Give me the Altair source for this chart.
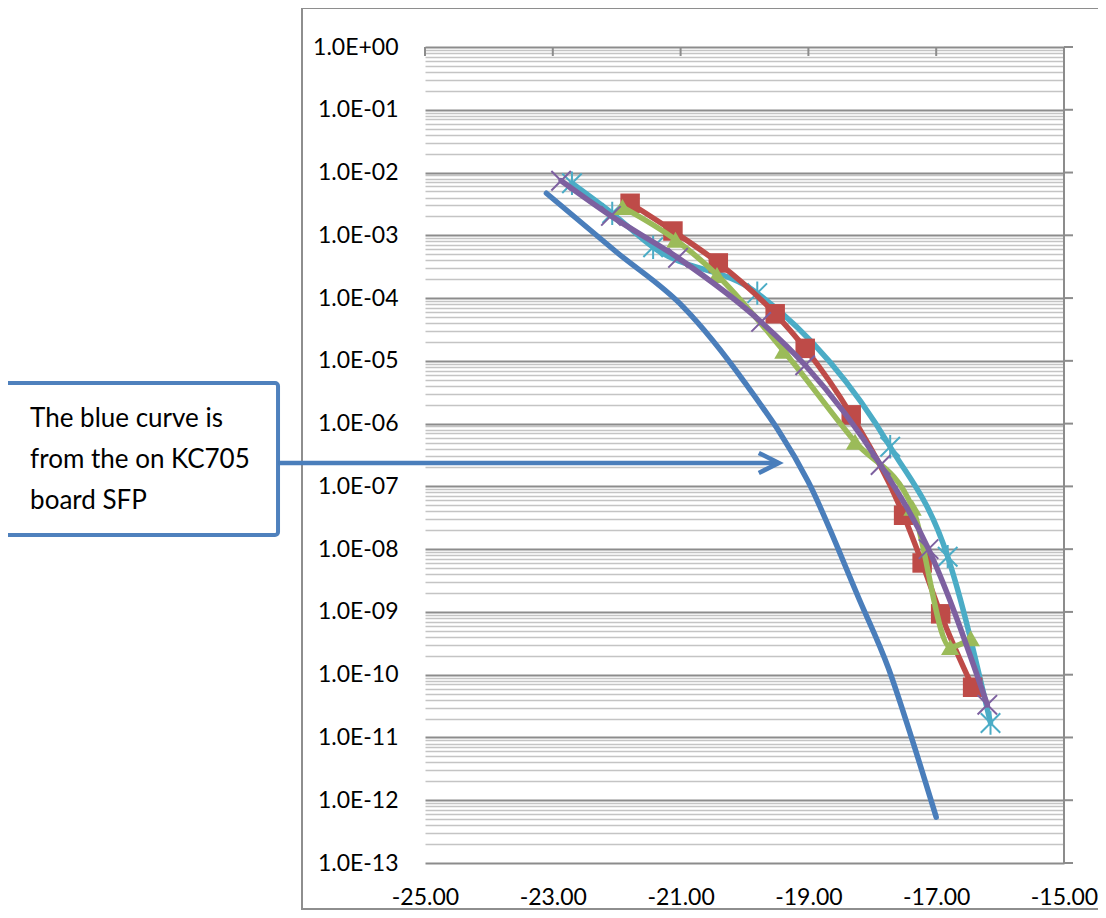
import altair as alt
import pandas as pd

# ---------------- data ----------------
blue_x = [-23.10, -22.00, -20.96, -20.00, -19.00, -18.20, -17.75, -17.40, -17.00]
blue_y = [4.68e-3, 5.37e-4, 7.24e-5, 4.57e-6, 1.17e-7, 1.55e-9, 1.29e-10, 1.10e-11, 5.37e-13]

red_x = [-21.79, -21.12, -20.41, -19.52, -19.05, -18.33, -17.51, -17.22, -16.93, -16.43]
red_y = [3.24e-3, 1.17e-3, 3.63e-4, 5.62e-5, 1.58e-5, 1.38e-6, 3.47e-8, 6.03e-9, 9.33e-10, 6.31e-11]

green_x = [-21.91, -21.08, -20.43, -19.39, -18.27, -17.37, -16.78, -16.46]
green_y = [2.82e-3, 8.51e-4, 2.34e-4, 1.45e-5, 5.13e-7, 4.57e-8, 2.75e-10, 3.80e-10]

purple_x = [-22.87, -22.09, -21.04, -19.74, -19.05, -17.87, -17.12, -16.20]
purple_y = [7.41e-3, 2.04e-3, 4.37e-4, 4.17e-5, 8.51e-6, 2.19e-7, 1.00e-8, 3.31e-11]

cyan_x = [-22.70, -22.07, -21.43, -19.80, -17.72, -16.82, -16.15]
cyan_y = [6.76e-3, 2.24e-3, 6.46e-4, 1.20e-4, 4.27e-7, 7.59e-9, 1.70e-11]

x_tick_values = [-25, -23, -21, -19, -17, -15]
decades = [10.0 ** e for e in range(-13, 1)]
minor_values = [m * 10.0 ** e for e in range(-13, 0) for m in range(1, 10)] + [1.0]

callout_lines = ["The blue curve is", "from the on KC705", "board SFP"]
callout_line_y = [1.20e-6, 2.60e-7, 5.80e-8]
callout_text_x = -31.18
callout_box = {"x0": -31.65, "x1": -27.30, "y0": 4.44e-6, "y1": 1.68e-8}
arrow = {"x0": -27.30, "x1": -19.47, "y": 2.36e-7, "head_x": -19.62}

# ---------------- styling ----------------
FONT = "Lato"
GRID_MAJOR = "#8C8C8C"
GRID_MINOR = "#C4C4C4"
W, H = 639, 816

xscale = alt.Scale(domain=[-25, -15], nice=False, zero=False)
yscale = alt.Scale(type="log", domain=[1e-13, 1.0], nice=False)

DEC_TEST = "abs(log(datum.value)/LN10 - round(log(datum.value)/LN10)) < 1e-6"
EXP = "round(log(datum.value)/LN10)"
y_label_expr = (
    f"{DEC_TEST} ? ('1.0E' + ({EXP} < 0 ? '-' : '+') + (abs({EXP}) < 10 ? '0' : '') + abs({EXP})) : ''"
)

xaxis = alt.Axis(
    values=x_tick_values, title=None, grid=False, domain=False, ticks=False, tickSize=0,
    labelExpr="(datum.value < 0 ? '-' : '') + format(abs(datum.value), '.2f')",
    labelFont=FONT, labelFontSize=23, labelColor="#000000", labelPadding=23,
    labelFlush=False, labelOverlap=False, labelBound=False,
)
yaxis = alt.Axis(
    values=minor_values, title=None, domain=False, ticks=False, tickSize=0,
    grid=True,
    gridColor={"condition": {"test": DEC_TEST, "value": GRID_MAJOR}, "value": GRID_MINOR},
    gridWidth={"condition": {"test": DEC_TEST, "value": 2}, "value": 1.3},
    labelExpr=y_label_expr,
    labelFont=FONT, labelFontSize=23, labelColor="#000000", labelPadding=27,
    labelFlush=False, labelOverlap=False, labelBound=False,
)


def X(field):
    return alt.X(field, type="quantitative", scale=xscale, axis=xaxis)


def Y(field):
    return alt.Y(field, type="quantitative", scale=yscale, axis=yaxis)


XPATH = "M-1,-1L1,1M-1,1L1,-1"
STARPATH = "M-1,-1L1,1M-1,1L1,-1M0,-1.2L0,1.2"

series = [
    # name, xs, ys, color, marker
    ("cyan", cyan_x, cyan_y, "#4BACC6", ("path", STARPATH)),
    ("blue", blue_x, blue_y, "#4A7EBB", None),
    ("red", red_x, red_y, "#BE4B48", ("square", None)),
    ("green", green_x, green_y, "#9BBB59", ("triangle-up", None)),
    ("purple", purple_x, purple_y, "#7D60A0", ("path", XPATH)),
]

layers = []

# outer chart-area frame (decoration)
frame = alt.Chart(pd.DataFrame({"a": [0]})).mark_rect(
    fill="transparent", stroke="#8E8E8E", strokeWidth=2, clip=False
).encode(x=alt.value(-123), x2=alt.value(W + 60), y=alt.value(-39), y2=alt.value(H + 46))
layers.append(frame)

# right-hand vertical axis line and its ticks
layers.append(
    alt.Chart(pd.DataFrame({"x": [-15], "y0": [1e-13], "y1": [1.0]})).mark_rule(
        color=GRID_MAJOR, strokeWidth=2
    ).encode(x=X("x"), y=Y("y0"), y2="y1")
)
layers.append(
    alt.Chart(pd.DataFrame({"y": decades})).mark_rule(color=GRID_MAJOR, strokeWidth=2).encode(
        y=Y("y"), x=alt.value(W), x2=alt.value(W + 9)
    )
)
# top ticks of the horizontal axis
layers.append(
    alt.Chart(pd.DataFrame({"x": x_tick_values})).mark_rule(color=GRID_MAJOR, strokeWidth=2).encode(
        x=X("x"), y=alt.value(0), y2=alt.value(9)
    )
)

for name, xs, ys, color, marker in series:
    df = pd.DataFrame({"x": xs, "y": ys})
    layers.append(
        alt.Chart(df).mark_line(
            interpolate="monotone", color=color, strokeWidth=5.5, strokeCap="round", clip=False
        ).encode(x=X("x"), y=Y("y"))
    )
    if marker is not None:
        kind, path = marker
        if kind == "square":
            m = alt.Chart(df).mark_point(shape="square", filled=True, color=color, size=380, opacity=1)
        elif kind == "triangle-up":
            m = alt.Chart(df).mark_point(shape="triangle-up", filled=True, color=color, size=340, opacity=1)
        else:
            m = alt.Chart(df).mark_point(
                shape=path, filled=False, color=color, strokeWidth=2, size=380, opacity=1
            )
        layers.append(m.encode(x=X("x"), y=Y("y")))

# callout box, text and arrow
box_df = pd.DataFrame([callout_box])
layers.append(
    alt.Chart(box_df).mark_rect(
        fill="#FFFFFF", stroke="#4F81BD", strokeWidth=4, cornerRadius=3, clip=False
    ).encode(x=X("x0"), x2="x1", y=Y("y0"), y2="y1")
)
txt_df = pd.DataFrame({"t": callout_lines, "y": callout_line_y, "x": [callout_text_x] * 3})
layers.append(
    alt.Chart(txt_df).mark_text(
        align="left", baseline="middle", font=FONT, fontSize=26, color="#000000", clip=False
    ).encode(x=X("x"), y=Y("y"), text="t:N")
)
arr_df = pd.DataFrame([arrow])
layers.append(
    alt.Chart(arr_df).mark_rule(color="#4A7EBB", strokeWidth=4.5, clip=False).encode(
        x=X("x0"), x2="x1", y=Y("y")
    )
)
layers.append(
    alt.Chart(arr_df).mark_point(
        shape="M-1,-1L1,0L-1,1", filled=False, color="#4A7EBB", strokeWidth=4.5,
        size=400, opacity=1, clip=False
    ).encode(x=X("head_x"), y=Y("y"))
)

chart = alt.layer(*layers).properties(
    width=W,
    height=H,
    autosize=alt.AutoSizeParams(type="none"),
    padding={"left": 417, "top": 39, "right": 34, "bottom": 47},
    background="#FFFFFF",
).configure_view(stroke=None)

chart.save("out.html", embed_options={"renderer": "svg", "actions": False})
